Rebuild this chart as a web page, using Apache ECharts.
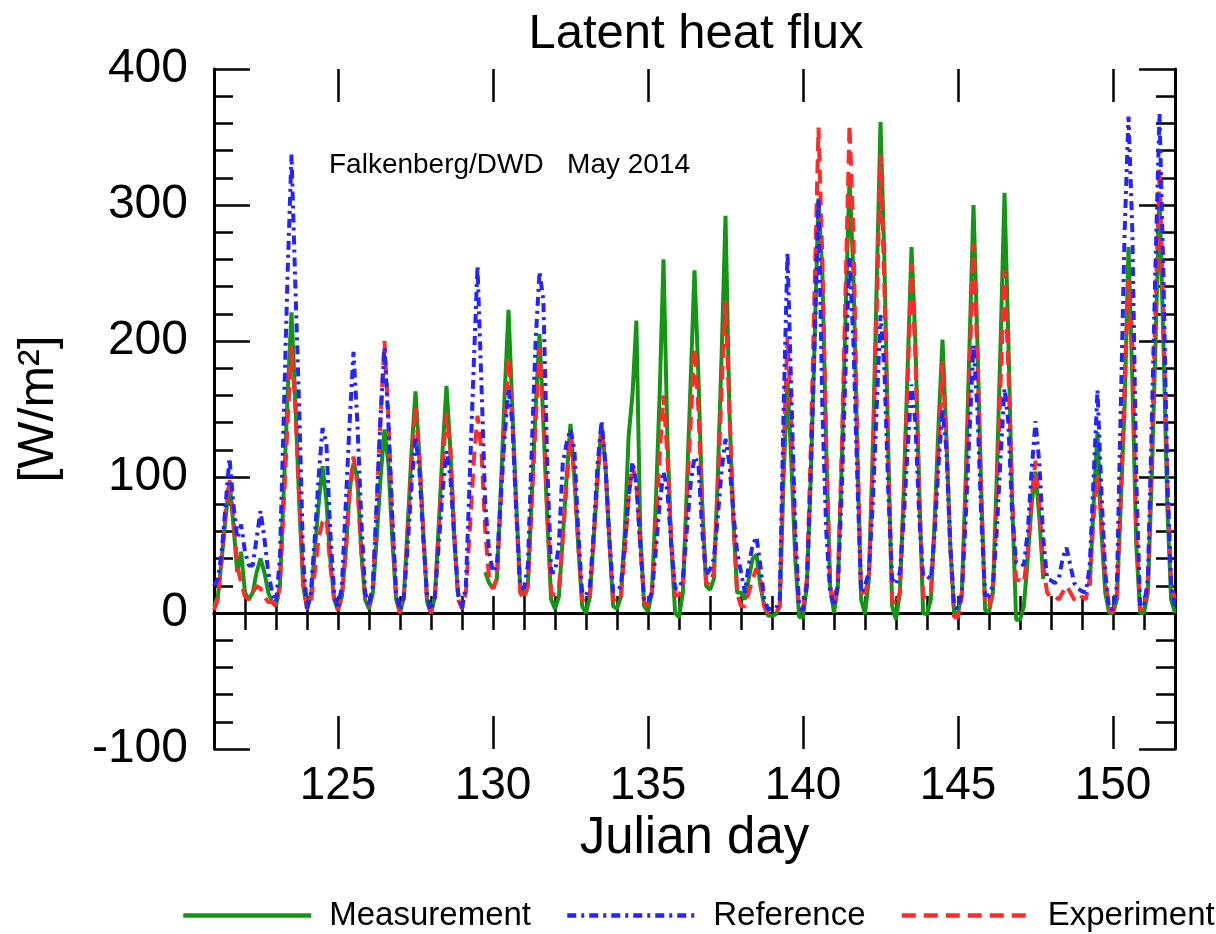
<!DOCTYPE html>
<html>
<head>
<meta charset="utf-8">
<script src="https://cdn.jsdelivr.net/npm/echarts@6/dist/echarts.min.js"></script>
<style>html,body{margin:0;padding:0;background:#fff}#c{width:1216px;height:934px}</style>
</head>
<body>
<div id="c"></div>
<script>
// Julian days and sample hours within each day
const days = [121,122,123,124,125,126,127,128,129,130,131,132,133,134,135,136,137,138,139,140,141,142,143,144,145,146,147,148,149,150,151];
const hours = [0, 3, 6, 9, 12, 15, 18, 21];
const endDay = 152;

// Measurement [W/m2], one row per day (hours above)
const measurement = [
  [5, 12, 40, 70, 96, 65, 30, 45],
  [15, 10, 15, 30, 40, 30, 15, 8],
  [5, 20, 90, 160, 221, 155, 80, 20],
  [3, 12, 45, 80, 108, 83, 40, 10],
  [2, 12, 45, 90, 110, 100, 45, 10],
  [3, 15, 55, 100, 135, 110, 55, 10],
  [0, 12, 65, 120, 163, 115, 60, 8],
  [0, 12, 65, 120, 167, 120, 55, 12],
  [null, null, null, null, null, null, 30, 22],
  [18, 25, 90, 160, 223, 150, 80, 20],
  [13, 20, 85, 150, 205, 140, 70, 10],
  [3, 12, 55, 100, 139, 100, 50, 5],
  [0, 12, 55, 100, 139, 110, 55, 5],
  [3, 12, 60, 130, 161, 215, 60, 5],
  [1, 15, 80, 160, 260, 130, 50, 0],
  [-3, 15, 90, 170, 252, 175, 80, 20],
  [17, 25, 100, 190, 292, 150, 70, 15],
  [15, 10, 25, 40, 43, 20, 5, -2],
  [-2, -1, 5, 100, 171, 110, 40, -3],
  [-3, 20, 100, 200, 305, 250, 120, 20],
  [0, 20, 110, 220, 320, 250, 120, 10],
  [-1, 25, 120, 240, 361, 260, 120, 5],
  [-5, 15, 90, 180, 269, 200, 90, 0],
  [-1, 10, 70, 140, 201, 130, 50, 0],
  [0, 15, 100, 200, 300, 200, 90, 2],
  [1, 15, 100, 200, 309, 200, 80, -5],
  [-5, 5, 40, 80, 104, 70, 25, null],
  [null, null, null, null, null, null, null, null],
  [null, null, 20, 80, 133, 60, 15, 0],
  [0, 10, 80, 152, 269, 170, 50, 0],
  [0, 15, 100, 200, 309, 200, 80, 10]
];
const measurementEnd = 0;

// Reference run
const reference = [
  [20, 25, 45, 80, 114, 80, 55, 65],
  [45, 35, 35, 55, 75, 55, 30, 15],
  [8, 40, 145, 250, 337, 240, 150, 40],
  [3, 15, 55, 100, 136, 125, 60, 15],
  [3, 20, 80, 140, 192, 140, 70, 15],
  [5, 20, 80, 145, 195, 140, 70, 15],
  [2, 12, 50, 95, 130, 105, 55, 12],
  [2, 12, 50, 90, 119, 100, 55, 15],
  [3, 20, 100, 180, 255, 170, 80, 45],
  [30, 35, 85, 130, 165, 140, 75, 20],
  [18, 35, 120, 200, 251, 230, 110, 30],
  [30, 50, 110, 125, 135, 120, 60, 15],
  [13, 20, 60, 110, 141, 110, 55, 16],
  [16, 20, 50, 85, 111, 95, 50, 10],
  [8, 15, 45, 80, 104, 90, 50, 18],
  [18, 25, 60, 95, 115, 110, 60, 28],
  [32, 40, 70, 105, 128, 110, 75, 45],
  [30, 15, 35, 50, 56, 35, 10, 3],
  [3, 3, 10, 150, 265, 160, 60, 5],
  [2, 20, 100, 200, 305, 150, 60, 15],
  [5, 20, 90, 180, 261, 200, 100, 15],
  [20, 30, 80, 150, 219, 180, 90, 25],
  [21, 30, 70, 120, 168, 140, 70, 27],
  [27, 25, 60, 110, 150, 120, 50, 5],
  [3, 15, 70, 135, 197, 150, 70, 13],
  [13, 20, 60, 115, 165, 140, 70, 37],
  [37, 35, 60, 105, 141, 110, 55, 25],
  [24, 22, 25, 40, 48, 35, 22, 18],
  [16, 15, 35, 100, 164, 90, 30, 3],
  [3, 20, 150, 280, 365, 280, 100, 5],
  [5, 25, 140, 260, 367, 250, 100, 20]
];
const referenceEnd = 5;

// Experiment run
const experiment = [
  [2, 10, 40, 75, 98, 70, 35, 22],
  [12, 10, 15, 20, 18, 12, 8, 8],
  [5, 20, 80, 140, 197, 150, 85, 25],
  [3, 8, 30, 55, 67, 70, 35, 10],
  [2, 12, 45, 90, 115, 95, 45, 12],
  [5, 20, 80, 145, 200, 145, 70, 12],
  [0, 12, 60, 110, 152, 115, 60, 8],
  [0, 12, 60, 110, 147, 120, 60, 10],
  [3, 15, 60, 110, 145, 120, 60, 25],
  [18, 25, 80, 140, 188, 140, 75, 15],
  [10, 20, 80, 140, 195, 150, 75, 15],
  [13, 18, 55, 95, 131, 100, 50, 10],
  [8, 12, 55, 100, 136, 110, 55, 10],
  [8, 12, 45, 85, 109, 95, 50, 8],
  [5, 15, 60, 115, 160, 115, 55, 13],
  [13, 20, 80, 140, 195, 150, 75, 22],
  [21, 30, 90, 165, 229, 150, 70, 15],
  [5, 5, 15, 25, 33, 25, 5, 0],
  [0, 0, 5, 120, 203, 140, 50, 2],
  [2, 25, 120, 240, 357, 260, 120, 20],
  [5, 25, 120, 240, 359, 280, 130, 15],
  [15, 25, 110, 220, 337, 240, 110, 10],
  [5, 15, 85, 170, 257, 190, 85, 12],
  [11, 15, 65, 125, 185, 125, 50, -3],
  [-3, 12, 90, 180, 272, 190, 85, 5],
  [5, 15, 85, 170, 252, 180, 85, 24],
  [24, 22, 45, 85, 112, 80, 35, 15],
  [11, 12, 10, 15, 20, 15, 10, 8],
  [12, 10, 25, 70, 101, 70, 25, 3],
  [0, 10, 85, 170, 245, 200, 60, 3],
  [3, 20, 120, 230, 328, 220, 100, 20]
];
const experimentEnd = 10;

const xMajorTicks = [125, 130, 135, 140, 145, 150];
const yTickLabels = [-100, 0, 100, 200, 300, 400];

function toPairs(rows, endVal) {
  const out = [];
  rows.forEach((row, i) => {
    row.forEach((v, j) => out.push([days[i] + hours[j] / 24, v]));
  });
  out.push([endDay, endVal]);
  return out;
}

const FONT = 'Liberation Sans, Arial, Helvetica, sans-serif';
const chart = echarts.init(document.getElementById('c'), null, {renderer: 'canvas'});

const lineAx = {show: true, lineStyle: {color: '#000', width: 3}};
const tickStyle = {color: '#000', width: 2.5};
const baseX = {type: 'value', min: 121, max: endDay, splitLine: {show: false}};

chart.setOption({
  animation: false,
  backgroundColor: '#fff',
  title: [
    {text: 'Latent heat flux', left: 691, top: 5, textAlign: 'center',
     textStyle: {fontFamily: FONT, fontSize: 49, fontWeight: 'normal', color: '#000'}},
    {text: 'Falkenberg/DWD   May 2014', left: 324, top: 146,
     textStyle: {fontFamily: FONT, fontSize: 28, fontWeight: 'normal', color: '#000'}}
  ],
  grid: {left: 214, right: 41, top: 69, bottom: 185},
  legend: {
    left: 181, top: 899, width: 1035, padding: 0,
    itemWidth: 128, itemHeight: 14, itemGap: 34,
    data: ['Measurement', 'Reference', 'Experiment'],
    itemStyle: {opacity: 0},
    lineStyle: {width: 4.5},
    textStyle: {fontFamily: FONT, fontSize: 33, color: '#000', padding: [0, 0, 0, 13]}
  },
  xAxis: [
    Object.assign({}, baseX, {
      position: 'bottom', interval: 1,
      axisLine: lineAx,
      axisTick: {show: true, inside: true, length: 17, lineStyle: tickStyle},
      axisLabel: {show: true, margin: 14, fontFamily: FONT, fontSize: 46, color: '#000',
        formatter: v => (xMajorTicks.indexOf(v) >= 0 ? String(v) : '')},
      name: 'Julian day', nameLocation: 'middle', nameGap: 60,
      nameTextStyle: {fontFamily: FONT, fontSize: 51, color: '#000'}
    }),
    Object.assign({}, baseX, {
      position: 'top', interval: 1,
      axisLine: lineAx,
      axisTick: {show: true, inside: true, length: 17, lineStyle: tickStyle},
      axisLabel: {show: false}
    }),
    Object.assign({}, baseX, {
      position: 'bottom',
      axisLine: {show: false},
      axisTick: {show: true, inside: true, length: 33, customValues: xMajorTicks, lineStyle: tickStyle},
      axisLabel: {show: false}
    }),
    Object.assign({}, baseX, {
      position: 'top',
      axisLine: {show: false},
      axisTick: {show: true, inside: true, length: 33, customValues: xMajorTicks, lineStyle: tickStyle},
      axisLabel: {show: false}
    })
  ],
  yAxis: [
    {
      type: 'value', position: 'left', min: -100, max: 400, interval: 100,
      splitLine: {show: false},
      axisLine: lineAx,
      axisTick: {show: true, inside: true, length: 36, lineStyle: tickStyle},
      minorTick: {show: true, splitNumber: 5, length: 19, lineStyle: tickStyle},
      axisLabel: {margin: 26, fontFamily: FONT, fontSize: 48, color: '#000',
        formatter: v => (yTickLabels.indexOf(v) >= 0 ? String(v) : '')},
      name: '[W/m²]', nameLocation: 'middle', nameGap: 150, nameRotate: 90,
      nameTextStyle: {fontFamily: FONT, fontSize: 50, color: '#000'}
    },
    {
      type: 'value', position: 'right', min: -100, max: 400, interval: 100,
      splitLine: {show: false},
      axisLine: lineAx,
      axisTick: {show: true, inside: true, length: 36, lineStyle: tickStyle},
      minorTick: {show: true, splitNumber: 5, length: 19, lineStyle: tickStyle},
      axisLabel: {show: false}
    }
  ],
  series: [
    {name: 'Measurement', type: 'line', xAxisIndex: 0, yAxisIndex: 0, symbol: 'none',
     data: toPairs(measurement, measurementEnd), connectNulls: false,
     lineStyle: {color: '#149614', width: 4, type: 'solid'}, itemStyle: {color: '#149614'}, z: 2},
    {name: 'Reference', type: 'line', xAxisIndex: 0, yAxisIndex: 0, symbol: 'none',
     data: toPairs(reference, referenceEnd),
     lineStyle: {color: '#2424ff', width: 4, type: [9, 5, 3, 5]}, itemStyle: {color: '#2424ff'}, z: 4},
    {name: 'Experiment', type: 'line', xAxisIndex: 0, yAxisIndex: 0, symbol: 'none',
     data: toPairs(experiment, experimentEnd),
     lineStyle: {color: '#ff2a2a', width: 4, type: [14, 8]}, itemStyle: {color: '#ff2a2a'}, z: 3}
  ]
});
</script>
</body>
</html>
